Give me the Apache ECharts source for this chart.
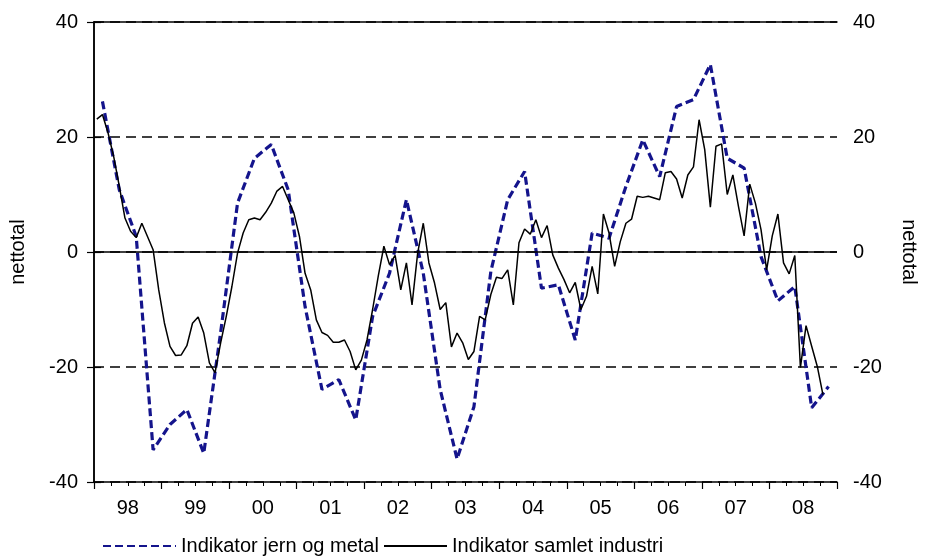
<!DOCTYPE html>
<html>
<head>
<meta charset="utf-8">
<script src="https://cdn.jsdelivr.net/npm/echarts@6/dist/echarts.min.js"></script>
<style>
html,body{margin:0;padding:0;background:#fff;}
#c{width:927px;height:557px;}
</style>
</head>
<body>
<div id="c"></div>
<script>
// Year labels (Jan 1998 - Dec 2008)
var yearLabels = ['98','99','00','01','02','03','04','05','06','07','08'];
var yTicks = [-40, -20, 0, 20, 40];

// Monthly: Indikator samlet industri (from Jan 1998)
var samletIndustri = [
  23.1, 23.9, 20.7, 16.6, 11.4, 5.9, 3.6, 2.5, 5.0, 2.7, 0.4, -6.6,
  -12.3, -16.4, -18.0, -17.9, -16.3, -12.4, -11.3, -14.1, -19.3, -21.0, -15.8, -11.2,
  -6.0, -0.2, 3.3, 5.6, 5.9, 5.6, 6.9, 8.5, 10.6, 11.4, 9.1, 6.8,
  2.7, -3.7, -6.6, -11.8, -14.0, -14.5, -15.7, -15.7, -15.3, -17.3, -20.5, -18.8,
  -15.3, -10.0, -4.2, 1.0, -2.2, -0.6, -6.6, -1.9, -9.2, -0.2, 5.0, -1.9,
  -5.4, -10.0, -8.8, -16.5, -14.1, -15.8, -18.7, -17.3, -11.2, -11.8, -7.4, -4.4,
  -4.6, -3.1, -9.2, 1.6, 4.0, 3.1, 5.6, 2.5, 4.6, -0.5, -2.8, -4.8,
  -7.1, -5.3, -10.0, -7.7, -2.5, -7.3, 6.6, 3.3, -2.5, 1.8, 5.0, 5.7,
  9.7, 9.5, 9.7, 9.4, 9.1, 13.8, 14.0, 12.7, 9.4, 13.4, 14.8, 23.0,
  17.8, 7.8, 18.4, 18.8, 10.0, 13.4, 7.9, 2.8, 11.8, 8.5, 3.9, -3.1,
  2.8, 6.6, -1.9, -3.8, -0.6, -20.1, -12.8, -16.4, -19.9, -24.8
];

// Quarterly: Indikator jern og metal (from Q1 1998)
var jernOgMetal = [
  26.2, 10.8, 2.7, -34.4,
  -30.0, -27.4, -35.0, -14.0,
  8.5, 16.3, 18.7, 10.8,
  -9.5, -23.9, -22.2, -29.2,
  -11.2, -3.7, 9.1, -3.7,
  -23.9, -36.0, -26.9, -3.4,
  9.1, 14.0, -6.3, -5.7,
  -15.3, 3.3, 2.4, 11.4,
  19.5, 13.1, 25.3, 26.5,
  32.6, 16.3, 14.6, -0.8,
  -8.5, -6.0, -27.1, -23.4
];

var FONT = '"Liberation Sans", Arial, sans-serif';
var FS = 20;

var monthlyData = samletIndustri.map(function (v, i) { return [i + 0.5, v]; });
var quarterlyData = jernOgMetal.map(function (v, i) { return [i * 3 + 1.5, v]; });

var chart = echarts.init(document.getElementById('c'), null, {renderer: 'canvas'});
chart.setOption({
  animation: false,
  backgroundColor: '#ffffff',
  grid: {left: 92, right: 84, top: 22, bottom: 75, containLabel: false},
  legend: [
    {
      data: ['Indikator jern og metal'],
      left: 97, top: 531,
      itemWidth: 73, itemHeight: 12,
      itemStyle: {opacity: 0},
      textStyle: {fontFamily: FONT, fontSize: FS, color: '#000'}
    },
    {
      data: ['Indikator samlet industri'],
      left: 378, top: 531,
      itemWidth: 63, itemHeight: 12,
      itemStyle: {opacity: 0},
      textStyle: {fontFamily: FONT, fontSize: FS, color: '#000'}
    }
  ],
  xAxis: [
    {
      type: 'value', min: 0, max: 132, interval: 12,
      axisLine: {show: true, onZero: false, lineStyle: {color: '#000', width: 1.5}},
      axisTick: {show: true, length: 7, lineStyle: {color: '#000', width: 1.2}},
      minorTick: {show: true, splitNumber: 4, length: 4, lineStyle: {color: '#000', width: 1}},
      axisLabel: {show: false},
      splitLine: {show: false}
    },
    {
      type: 'value', min: 0, max: 132, interval: 6, position: 'bottom',
      axisLine: {show: false}, axisTick: {show: false}, splitLine: {show: false},
      axisLabel: {
        show: true, margin: 16, fontFamily: FONT, fontSize: FS, color: '#000',
        formatter: function (v) {
          if (v % 12 === 6) { return yearLabels[(v - 6) / 12]; }
          return '';
        }
      }
    },
    {
      type: 'value', min: 0, max: 132, position: 'top',
      axisLine: {show: true, onZero: false, lineStyle: {color: '#000', width: 1.5}},
      axisTick: {show: false}, axisLabel: {show: false}, splitLine: {show: false}
    }
  ],
  yAxis: [
    {
      type: 'value', min: yTicks[0], max: yTicks[yTicks.length - 1], interval: 20,
      position: 'left',
      name: 'nettotal', nameLocation: 'middle', nameRotate: 90, nameGap: 66,
      nameTextStyle: {fontFamily: FONT, fontSize: FS, color: '#000'},
      axisLine: {show: true, lineStyle: {color: '#000', width: 1.5}},
      axisTick: {show: true, length: 7, lineStyle: {color: '#000', width: 1.2}},
      axisLabel: {margin: 16, fontFamily: FONT, fontSize: FS, color: '#000'},
      splitLine: {show: true, lineStyle: {color: '#000', width: 1.5, type: [10, 6]}}
    },
    {
      type: 'value', min: yTicks[0], max: yTicks[yTicks.length - 1], interval: 20,
      position: 'right',
      name: 'nettotal', nameLocation: 'middle', nameRotate: -90, nameGap: 62,
      nameTextStyle: {fontFamily: FONT, fontSize: FS, color: '#000'},
      axisLine: {show: true, lineStyle: {color: '#000', width: 1.5}},
      axisTick: {show: true, length: 7, lineStyle: {color: '#000', width: 1.2}},
      axisLabel: {margin: 16, fontFamily: FONT, fontSize: FS, color: '#000'},
      splitLine: {show: false}
    }
  ],
  series: [
    {
      name: 'Indikator jern og metal',
      type: 'line', xAxisIndex: 0, yAxisIndex: 0,
      data: quarterlyData,
      showSymbol: false, symbol: 'none',
      lineStyle: {color: '#14148c', width: 3.2, type: [8, 4]},
      itemStyle: {color: '#14148c'},
      z: 3
    },
    {
      name: 'Indikator samlet industri',
      type: 'line', xAxisIndex: 0, yAxisIndex: 0,
      data: monthlyData,
      showSymbol: false, symbol: 'none',
      lineStyle: {color: '#000', width: 1.5},
      itemStyle: {color: '#000'},
      markLine: {
        silent: true, symbol: 'none', label: {show: false},
        lineStyle: {color: '#000', width: 1.5, type: 'solid'},
        data: [{yAxis: 0}]
      },
      z: 4
    }
  ]
});
</script>
</body>
</html>
